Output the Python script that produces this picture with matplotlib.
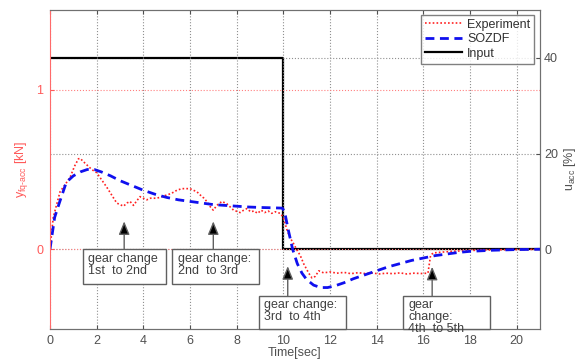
import matplotlib
matplotlib.use("Agg")
import matplotlib.pyplot as plt
from matplotlib.patches import Rectangle

plt.rcParams["font.family"] = ["Liberation Sans", "DejaVu Sans"]
plt.rcParams["mathtext.fontset"] = "custom"
plt.rcParams["mathtext.rm"] = "Liberation Sans"
plt.rcParams["mathtext.it"] = "Liberation Sans:italic"

# --- data -------------------------------------------------------------
# measured longitudinal force (kN)
exp_t = [0.0, 0.14, 0.43, 0.86, 1.05, 1.22, 1.29, 1.5, 1.79, 2.0, 2.43, 2.86, 2.93,
         3.15, 3.3, 3.43, 3.58, 3.7, 3.86, 4.0, 4.15, 4.3, 4.58, 4.8, 5.0, 5.2,
         5.44, 5.65, 5.87, 6.0, 6.15, 6.3, 6.44, 6.6, 6.72, 6.85, 7.0, 7.15, 7.37,
         7.58, 7.87, 8.15, 8.3, 8.44, 8.6, 8.75, 8.9, 9.05, 9.2, 9.35, 9.5, 9.65,
         9.87, 10.0, 10.16, 10.3, 10.44, 10.59, 10.73, 10.87, 11.09, 11.23, 11.37,
         11.52, 11.73, 12.0, 12.3, 12.6, 12.9, 13.2, 13.5, 13.8, 14.1, 14.4, 14.7,
         15.0, 15.3, 15.6, 15.9, 16.2, 16.31, 16.42, 16.88, 17.3, 17.73, 18.3,
         19.0, 20.0, 21.0]
exp_y = [0.0, 0.2, 0.36, 0.45, 0.52, 0.567, 0.57, 0.54, 0.5, 0.48, 0.39, 0.29, 0.285,
         0.27, 0.29, 0.30, 0.275, 0.3, 0.33, 0.32, 0.31, 0.32, 0.32, 0.33, 0.34, 0.35,
         0.37, 0.38, 0.38, 0.38, 0.37, 0.36, 0.34, 0.32, 0.30, 0.27, 0.245, 0.275,
         0.30, 0.285, 0.245, 0.23, 0.245, 0.255, 0.235, 0.24, 0.225, 0.245, 0.23,
         0.24, 0.225, 0.235, 0.225, 0.2, 0.12, 0.07, 0.035, -0.006, -0.04, -0.09,
         -0.15, -0.18, -0.17, -0.135, -0.148, -0.142, -0.15, -0.145, -0.153, -0.147,
         -0.152, -0.148, -0.155, -0.15, -0.153, -0.148, -0.155, -0.15, -0.152,
         -0.15, -0.04, -0.023, -0.017, -0.012, -0.01, -0.006, -0.004, -0.002, 0.0]

# SOZDF model response (kN)
model_t = [0.0, 0.1, 0.2, 0.4, 0.7, 1.0, 1.3, 1.6, 1.9, 2.2, 2.6, 3.0, 3.5, 4.0,
           4.5, 5.0, 5.5, 6.0, 6.5, 7.0, 7.5, 8.0, 8.5, 9.0, 9.5, 9.95, 10.05, 10.2,
           10.4, 10.6, 10.8, 11.0, 11.3, 11.6, 11.9, 12.2, 12.6, 13.0, 13.5, 14.0,
           14.5, 15.0, 15.5, 16.0, 16.5, 17.0, 17.5, 18.0, 19.0, 20.0, 21.0]
model_y = [0.0, 0.1, 0.2, 0.29, 0.42, 0.46, 0.485, 0.5, 0.5, 0.485, 0.46, 0.43, 0.40,
           0.37, 0.345, 0.325, 0.31, 0.30, 0.29, 0.28, 0.275, 0.27, 0.265, 0.262,
           0.26, 0.258, 0.24, 0.13, 0.0, -0.09, -0.15, -0.19, -0.225, -0.24, -0.24,
           -0.23, -0.21, -0.185, -0.16, -0.135, -0.11, -0.09, -0.07, -0.055, -0.04,
           -0.03, -0.02, -0.013, -0.006, -0.002, 0.0]

# accelerator pedal input (%)
input_t = [0.0, 10.0, 10.0, 21.0]
input_u = [40.0, 40.0, 0.0, 0.0]

x_ticks = [0, 2, 4, 6, 8, 10, 12, 14, 16, 18, 20]
left_ticks = [0, 1]
right_ticks = [0, 20, 40]

gear_labels = ["gear change\n1st  to 2nd", "gear change:\n2nd  to 3rd",
               "gear change:\n3rd  to 4th", "gear\nchange:\n4th  to 5th"]
gear_times = [3.18, 7.0, 10.19, 16.38]

# --- figure -----------------------------------------------------------
RED = "#ff5a5a"
GRAY = "#505050"
FS = 9

fig = plt.figure(figsize=(5.88, 3.61), dpi=100)
ax = fig.add_axes([0.085, 0.0886, 0.8333, 0.8837])
ax2 = ax.twinx()
ax.set_zorder(ax2.get_zorder() + 1)
ax.patch.set_visible(False)

ax.set_xlim(0, 21)
ax.set_ylim(-0.5, 1.5)
ax2.set_ylim(-50 / 3, 50)

l_in, = ax2.plot(input_t, input_u, color="black", lw=1.6, label="Input")
l_exp, = ax.plot(exp_t, exp_y, color="#ff2020", lw=1.2, ls=(0, (1, 1.3)),
                 label="Experiment")
l_mod, = ax.plot(model_t, model_y, color="#1010ee", lw=2.0, ls=(0, (3.2, 2.0)),
                 label="SOZDF")

ax.set_xticks(x_ticks)
ax.set_yticks(left_ticks)
ax2.set_yticks(right_ticks)

# grid
ax.xaxis.grid(True, ls=":", color="#909090", lw=0.8)
ax.yaxis.grid(True, ls=":", color="#ff8080", lw=0.8)
ax2.yaxis.grid(True, ls=":", color="#909090", lw=0.8)

for a in (ax, ax2):
    for s in a.spines.values():
        s.set_color("#707070")
ax.spines["left"].set_color("#ff6a6a")
ax2.spines["left"].set_visible(False)

ax.tick_params(axis="x", direction="in", top=True, labelsize=FS, colors=GRAY,
               length=3, pad=4)
ax.tick_params(axis="y", direction="in", labelsize=FS, colors=RED, length=3, pad=5)
ax2.tick_params(axis="y", direction="in", labelsize=FS, colors=GRAY, length=3, pad=3)

ax.set_xlabel("Time[sec]", fontsize=FS, color=GRAY)
ax.xaxis.set_label_coords(0.5, -0.055)
ax.set_ylabel(r"y$_{\mathrm{fq\text{-}acc}}$ [kN]", fontsize=FS, color=RED)
ax.yaxis.set_label_coords(-0.04, 0.5)
ax2.set_ylabel(r"u$_{\mathrm{acc}}$ [%]", fontsize=FS, color=GRAY)
ax2.yaxis.set_label_coords(1.045, 0.5)

leg = ax.legend(handles=[l_exp, l_mod, l_in], loc="upper right",
                bbox_to_anchor=(0.988, 0.984), borderaxespad=0, fontsize=FS,
                frameon=True, fancybox=False, handlelength=3.0, handletextpad=0.4,
                labelspacing=0.2, borderpad=0.3)
leg.get_frame().set_edgecolor("#606060")
leg.get_frame().set_linewidth(1.0)
for t in leg.get_texts():
    t.set_color("#303030")

# gear-change annotation boxes (left, bottom, width, height in data units)
boxes = [(1.43, -0.219, 3.55, 0.219), (5.25, -0.219, 3.69, 0.219),
         (8.94, -0.5, 3.76, 0.208), (15.14, -0.5, 3.70, 0.208)]
tips = [0.175, 0.175, -0.106, -0.11]
for (x0, y0, w, h), lbl, tx, tip in zip(boxes, gear_labels, gear_times, tips):
    ax.add_patch(Rectangle((x0, y0), w, h, facecolor="white", edgecolor="#606060",
                           lw=1.0, zorder=5, clip_on=False))
    ax.text(x0 + 0.22, y0 + h - 0.022, lbl, fontsize=FS, color="#404040",
            ha="left", va="top", linespacing=1.0, zorder=6, clip_on=False)
    ax.annotate("", xy=(tx, tip), xytext=(tx, y0 + h),
                arrowprops=dict(arrowstyle="-|>,head_length=0.8,head_width=0.33",
                                mutation_scale=10, facecolor="black",
                                edgecolor="#606060", lw=1.0,
                                shrinkA=0, shrinkB=0),
                zorder=6)

fig.savefig("out.png", dpi=100)
